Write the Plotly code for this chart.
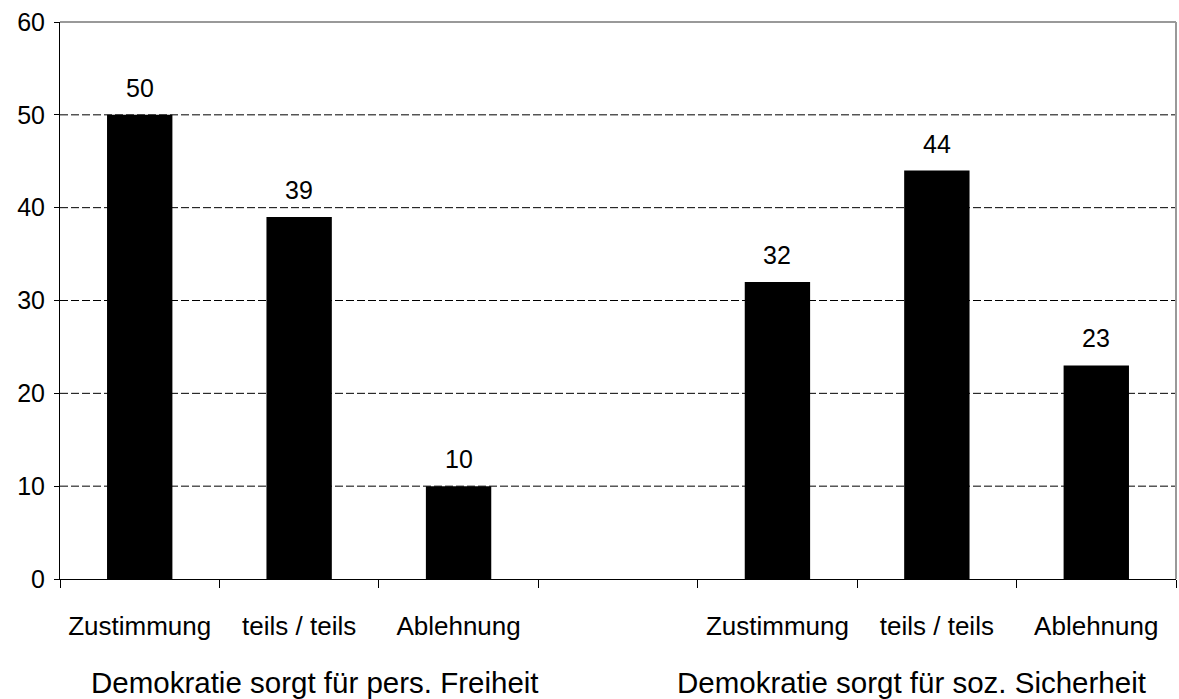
import plotly.graph_objects as go

categories = ["Zustimmung", "teils / teils", "Ablehnung", "", "Zustimmung", "teils / teils", "Ablehnung"]
values = [50, 39, 10, None, 32, 44, 23]
group_titles = ["Demokratie sorgt für pers. Freiheit", "Demokratie sorgt für soz. Sicherheit"]
group_title_pos = [1.6, 5.34]
y_ticks = [0, 10, 20, 30, 40, 50, 60]

FONT = "Liberation Sans, Arial, sans-serif"

positions = [i + 0.5 for i in range(len(categories))]
bx = [p for p, v in zip(positions, values) if v is not None]
by = [v for v in values if v is not None]

fig = go.Figure()
fig.add_trace(go.Bar(
    x=bx, y=by, width=0.41,
    marker=dict(color="black", line=dict(width=0)),
    hoverinfo="x+y",
))

# value labels above bars
for x, v in zip(bx, by):
    fig.add_annotation(x=x, y=v, xref="x", yref="y", text=str(v), showarrow=False,
                       yanchor="bottom", yshift=11,
                       font=dict(family=FONT, size=25, color="black"))

# dashed gridlines
for t in y_ticks[1:-1]:
    fig.add_shape(type="line", xref="paper", yref="y", x0=0, x1=1, y0=t, y1=t,
                  line=dict(color="black", width=1, dash="8px,3px"), layer="below")

lab_x = [p for p, c in zip(positions, categories) if c]
lab_t = [c for c in categories if c]

fig.update_layout(
    width=1179, height=699,
    margin=dict(l=60, r=3, t=22, b=120),
    paper_bgcolor="white", plot_bgcolor="white",
    showlegend=False,
    font=dict(family=FONT, size=25, color="black"),
    xaxis=dict(
        range=[0, 7], tickmode="array", tickvals=lab_x, ticktext=lab_t,
        ticks="", showgrid=False, zeroline=False,
        showline=True, linecolor="black", linewidth=1,
        ticklabelstandoff=24,
        tickfont=dict(family=FONT, size=26, color="black"),
        minor=dict(tickmode="array", tickvals=list(range(8)), ticks="outside",
                   ticklen=8, tickcolor="black", tickwidth=1, showgrid=False),
    ),
    yaxis=dict(
        range=[0, 60], tickmode="array", tickvals=y_ticks,
        ticks="outside", ticklen=5, tickcolor="black",
        showgrid=False, zeroline=False,
        showline=True, linecolor="black", linewidth=1,
        tickfont=dict(family=FONT, size=25, color="black"),
        ticklabelstandoff=4,
    ),
)

# gray border top and right
fig.add_shape(type="line", xref="paper", yref="paper", x0=0, x1=1, y0=1, y1=1,
              line=dict(color="#999999", width=2))
fig.add_shape(type="line", xref="paper", yref="paper", x0=1, x1=1, y0=0, y1=1,
              line=dict(color="#999999", width=2))

for tx, tt in zip(group_title_pos, group_titles):
    fig.add_annotation(x=tx, xref="x", y=0, yref="paper", yshift=-103,
                       text=tt, showarrow=False, yanchor="middle",
                       font=dict(family=FONT, size=29.5, color="black"))

fig.write_html("out.html",
               config={"displayModeBar": False},
               post_script="document.body.style.margin='0';document.body.style.overflow='hidden';")
